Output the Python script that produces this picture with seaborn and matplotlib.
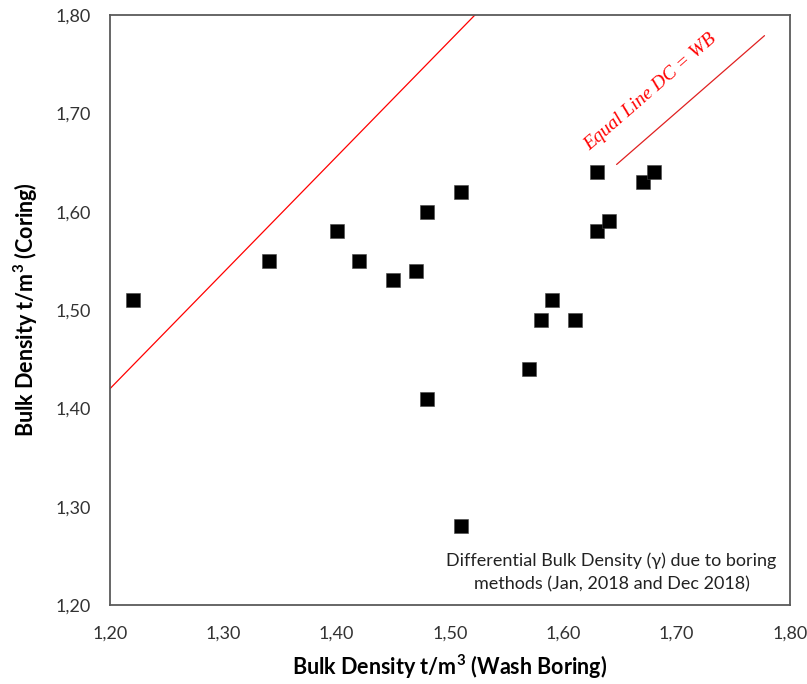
import matplotlib
matplotlib.use("Agg")
import matplotlib.pyplot as plt
import seaborn as sns
import pandas as pd
from matplotlib.ticker import FuncFormatter, MultipleLocator

# Data
wash_boring = [1.22, 1.34, 1.40, 1.42, 1.45, 1.47, 1.48, 1.48, 1.51, 1.51,
               1.57, 1.58, 1.59, 1.61, 1.63, 1.63, 1.64, 1.67, 1.68]
coring = [1.51, 1.55, 1.58, 1.55, 1.53, 1.54, 1.60, 1.41, 1.62, 1.28,
          1.44, 1.49, 1.51, 1.49, 1.64, 1.58, 1.59, 1.63, 1.64]

line1_x = [1.20, 1.522]
line1_y = [1.42, 1.80]
line2_x = [1.647, 1.7775]
line2_y = [1.648, 1.779]

x_label = "Bulk Density t/m$^{\\mathregular{3}}$ (Wash Boring)"
y_label = "Bulk Density t/m$^{\\mathregular{3}}$ (Coring)"
line_label = "Equal Line DC = WB"
note = "Differential Bulk Density (\u03b3) due to boring\nmethods (Jan, 2018 and Dec 2018)"

sns.set_theme(style="white")
plt.rcParams['font.family'] = ['Lato', 'DejaVu Sans']

fig = plt.figure(figsize=(8.07, 6.84), dpi=100)
ax = fig.add_axes([110/807, 79/684, 680/807, 590/684])

df = pd.DataFrame({"wb": wash_boring, "dc": coring})
l1 = pd.DataFrame({"x": line1_x, "y": line1_y})
l2 = pd.DataFrame({"x": line2_x, "y": line2_y})

sns.lineplot(data=l1, x="x", y="y", ax=ax, color="#ff0000", linewidth=0.9, sort=False)
sns.lineplot(data=l2, x="x", y="y", ax=ax, color="#e02020", linewidth=0.9, sort=False)
sns.scatterplot(data=df, x="wb", y="dc", ax=ax, marker="s", s=105,
                color="black", edgecolor="#444444", linewidth=0.4, zorder=5)

ax.set_xlim(1.20, 1.80)
ax.set_ylim(1.20, 1.80)
ax.xaxis.set_major_locator(MultipleLocator(0.10))
ax.yaxis.set_major_locator(MultipleLocator(0.10))
fmt = FuncFormatter(lambda v, p: f"{v:.2f}".replace(".", ","))
ax.xaxis.set_major_formatter(fmt)
ax.yaxis.set_major_formatter(fmt)
ax.tick_params(axis="both", length=0, labelsize=13, colors="#333333")
ax.tick_params(axis="y", pad=14)
ax.tick_params(axis="x", pad=15)
for lab in ax.get_xticklabels() + ax.get_yticklabels():
    lab.set_color("#333333")

ax.set_xlabel(x_label, fontsize=15.5, fontweight="bold", color="black", labelpad=8)
ax.set_ylabel(y_label, fontsize=15.5, fontweight="bold", color="black", labelpad=11)

for sp in ax.spines.values():
    sp.set_visible(True)
    sp.set_color("#5a5a5a")
    sp.set_linewidth(1.3)

ax.text(1.6766, 1.7217, line_label, rotation=41, rotation_mode="anchor",
        ha="center", va="center", color="red", fontsize=14, style="italic",
        family=["Liberation Serif", "DejaVu Serif"])

ax.text(1.6425, 1.233, note, ha="center", va="center", fontsize=13,
        color="#222222", linespacing=1.5)

fig.savefig("out.png", dpi=100, facecolor="white")
